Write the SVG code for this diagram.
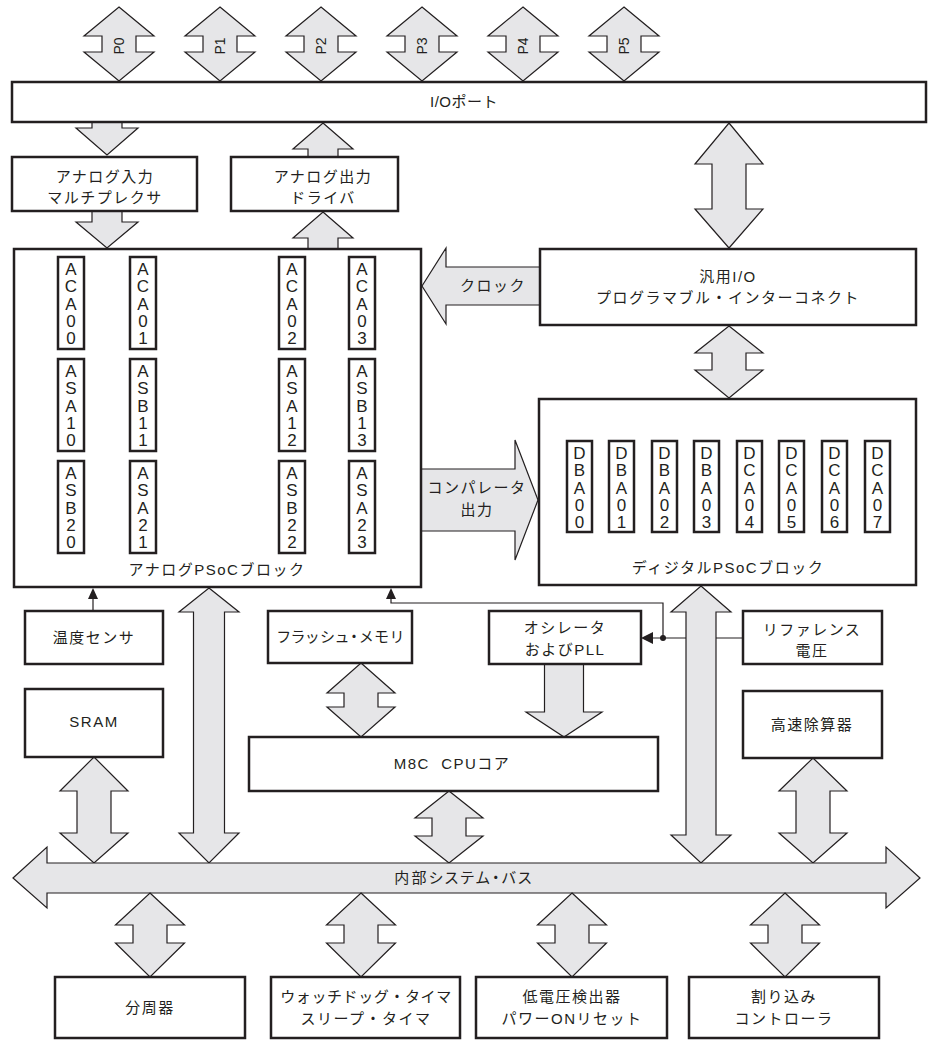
<svg xmlns="http://www.w3.org/2000/svg" width="929" height="1046" viewBox="0 0 929 1046">
<style>
.box{fill:#fff;stroke:#231f20;stroke-width:2.5}
.sub{fill:#fff;stroke:#231f20;stroke-width:2.5}
.arr{fill:#e6e6e8;stroke:#231f20;stroke-width:1.2;stroke-linejoin:miter}
.ln{fill:none;stroke:#231f20;stroke-width:1.2}
.hd{fill:#231f20;stroke:none}
.t{font-family:"Liberation Sans","Noto Sans CJK JP",sans-serif;font-size:15px;fill:#231f20;text-anchor:middle;letter-spacing:1.5px}
.pr{font-feature-settings:"palt";letter-spacing:1.8px}
.s{font-family:"Liberation Sans","Noto Sans CJK JP",sans-serif;font-size:17px;fill:#231f20;text-anchor:middle}
.p{font-family:"Liberation Sans",sans-serif;font-size:14px;fill:#231f20;text-anchor:middle}
</style>
<rect width="929" height="1046" fill="#fff"/>
<g id="connectors">
<polygon class="arr" points="119,7 154,36 136,36 136,52 154,52 119,81 84,52 102,52 102,36 84,36"/>
<polygon class="arr" points="220,7 255,36 237,36 237,52 255,52 220,81 185,52 203,52 203,36 185,36"/>
<polygon class="arr" points="321,7 356,36 338,36 338,52 356,52 321,81 286,52 304,52 304,36 286,36"/>
<polygon class="arr" points="422,7 457,36 439,36 439,52 457,52 422,81 387,52 405,52 405,36 387,36"/>
<polygon class="arr" points="523,7 558,36 540,36 540,52 558,52 523,81 488,52 506,52 506,36 488,36"/>
<polygon class="arr" points="624,7 659,36 641,36 641,52 659,52 624,81 589,52 607,52 607,36 589,36"/>
<polygon class="arr" points="92,121 122,121 122,128 138,128 107,155 76,128 92,128"/>
<polygon class="arr" points="92,211 122,211 122,222 138,222 107,248 76,222 92,222"/>
<polygon class="arr" points="323,123 353,149 338,149 338,158 308,158 308,149 293,149"/>
<polygon class="arr" points="323,212 353,238 338,238 338,250 308,250 308,238 293,238"/>
<polygon class="arr" points="729,123 763,164 746,164 746,209 763,209 729,248 695,209 712,209 712,164 695,164"/>
<polygon class="arr" points="729,326 763,353 746,353 746,370 763,370 729,398 695,370 712,370 712,353 695,353"/>
<polygon class="arr" points="422,286 446,248 446,267 541,267 541,305 446,305 446,324"/>
<polygon class="arr" points="420,469 515,469 515,440 538,500 515,560 515,531 420,531"/>
<line class="ln" x1="93" y1="611" x2="93" y2="598"/>
<polygon class="hd" points="93,588 88,599 98,599"/>
<polyline class="ln" points="391,598 391,603 663,603 663,638"/>
<polygon class="hd" points="391,588 386,599 396,599"/>
<line class="ln" x1="652" y1="638" x2="743" y2="638"/>
<polygon class="hd" points="641,638 653,632 653,644"/>
<circle class="hd" cx="663" cy="638" r="3"/>
<polygon class="arr" points="209,588 239,612 224.5,612 224.5,833 239,833 209,863 179,833 193.5,833 193.5,612 179,612"/>
<polygon class="arr" points="701,586 731,612 716,612 716,835 731,835 701,863 671,835 686,835 686,612 671,612"/>
<polygon class="arr" points="94,757 128,791 111,791 111,833 128,833 94,863 60,833 77,833 77,791 60,791"/>
<polygon class="arr" points="361,663 395,693 378,693 378,707 395,707 361,737 327,707 344,707 344,693 327,693"/>
<polygon class="arr" points="544.5,663 583.5,663 583.5,712 602,712 564,737 526,712 544.5,712"/>
<polygon class="arr" points="449,791 483,818 466,818 466,836 483,836 449,863 415,836 432,836 432,818 415,818"/>
<polygon class="arr" points="813,758 847,791 830,791 830,833 847,833 813,863 779,833 796,833 796,791 779,791"/>
<polygon class="arr" points="13,878 47,847 47,863 886,863 886,847 920,878 886,908 886,893 47,893 47,908"/>
<polygon class="arr" points="150,893 184.5,925 167,925 167,943 184.5,943 150,977 115.5,943 133,943 133,925 115.5,925"/>
<polygon class="arr" points="361,893 395.5,925 378,925 378,943 395.5,943 361,977 326.5,943 344,943 344,925 326.5,925"/>
<polygon class="arr" points="572,893 606.5,925 589,925 589,943 606.5,943 572,977 537.5,943 555,943 555,925 537.5,925"/>
<polygon class="arr" points="785,893 819.5,925 802,925 802,943 819.5,943 785,977 750.5,943 768,943 768,925 750.5,925"/>
</g>
<g id="port-labels">
<text class="p" transform="translate(124,46) rotate(-90)">P0</text>
<text class="p" transform="translate(225,46) rotate(-90)">P1</text>
<text class="p" transform="translate(326,46) rotate(-90)">P2</text>
<text class="p" transform="translate(427,46) rotate(-90)">P3</text>
<text class="p" transform="translate(528,46) rotate(-90)">P4</text>
<text class="p" transform="translate(629,46) rotate(-90)">P5</text>
</g>
<g id="io-port"><rect class="box" x="12" y="82" width="914" height="40"/><text class="t" x="464" y="107" style="letter-spacing:0.5px">I/Oポート</text></g>
<g id="analog-in-mux"><rect class="box" x="12" y="157" width="185" height="54"/><text class="t" x="105" y="182">アナログ入力</text><text class="t" x="105" y="203">マルチプレクサ</text></g>
<g id="analog-out-driver"><rect class="box" x="231" y="157" width="167" height="54"/><text class="t" x="323" y="182">アナログ出力</text><text class="t" x="323" y="203">ドライバ</text></g>
<g id="gpio-interconnect"><rect class="box" x="540" y="249" width="376" height="76"/><text class="t" x="728" y="282">汎用I/O</text><text class="t" x="728" y="303">プログラマブル・インターコネクト</text></g>
<g id="comparator-label"><text class="t" x="477" y="493">コンパレータ</text><text class="t" x="477" y="515">出力</text></g>
<g id="clock-label"><text class="t" x="493" y="291">クロック</text></g>
<g id="analog-psoc">
<rect class="box" x="14" y="249" width="407" height="338"/>
<g id="analog-blocks">
<rect class="sub" x="58" y="257" width="26" height="92"/><rect class="sub" x="130" y="257" width="26" height="92"/><rect class="sub" x="279" y="257" width="26" height="92"/><rect class="sub" x="349" y="257" width="26" height="92"/>
<rect class="sub" x="58" y="359" width="26" height="92"/><rect class="sub" x="130" y="359" width="26" height="92"/><rect class="sub" x="279" y="359" width="26" height="92"/><rect class="sub" x="349" y="359" width="26" height="92"/>
<rect class="sub" x="58" y="461" width="26" height="92"/><rect class="sub" x="130" y="461" width="26" height="92"/><rect class="sub" x="279" y="461" width="26" height="92"/><rect class="sub" x="349" y="461" width="26" height="92"/>
<text class="s"><tspan x="71" y="275">A</tspan><tspan x="71" y="292">C</tspan><tspan x="71" y="309.5">A</tspan><tspan x="71" y="326.5">0</tspan><tspan x="71" y="344">0</tspan></text>
<text class="s"><tspan x="143" y="275">A</tspan><tspan x="143" y="292">C</tspan><tspan x="143" y="309.5">A</tspan><tspan x="143" y="326.5">0</tspan><tspan x="143" y="344">1</tspan></text>
<text class="s"><tspan x="292" y="275">A</tspan><tspan x="292" y="292">C</tspan><tspan x="292" y="309.5">A</tspan><tspan x="292" y="326.5">0</tspan><tspan x="292" y="344">2</tspan></text>
<text class="s"><tspan x="362" y="275">A</tspan><tspan x="362" y="292">C</tspan><tspan x="362" y="309.5">A</tspan><tspan x="362" y="326.5">0</tspan><tspan x="362" y="344">3</tspan></text>
<text class="s"><tspan x="71" y="377">A</tspan><tspan x="71" y="394">S</tspan><tspan x="71" y="411.5">A</tspan><tspan x="71" y="428.5">1</tspan><tspan x="71" y="446">0</tspan></text>
<text class="s"><tspan x="143" y="377">A</tspan><tspan x="143" y="394">S</tspan><tspan x="143" y="411.5">B</tspan><tspan x="143" y="428.5">1</tspan><tspan x="143" y="446">1</tspan></text>
<text class="s"><tspan x="292" y="377">A</tspan><tspan x="292" y="394">S</tspan><tspan x="292" y="411.5">A</tspan><tspan x="292" y="428.5">1</tspan><tspan x="292" y="446">2</tspan></text>
<text class="s"><tspan x="362" y="377">A</tspan><tspan x="362" y="394">S</tspan><tspan x="362" y="411.5">B</tspan><tspan x="362" y="428.5">1</tspan><tspan x="362" y="446">3</tspan></text>
<text class="s"><tspan x="71" y="479">A</tspan><tspan x="71" y="496">S</tspan><tspan x="71" y="513.5">B</tspan><tspan x="71" y="530.5">2</tspan><tspan x="71" y="548">0</tspan></text>
<text class="s"><tspan x="143" y="479">A</tspan><tspan x="143" y="496">S</tspan><tspan x="143" y="513.5">A</tspan><tspan x="143" y="530.5">2</tspan><tspan x="143" y="548">1</tspan></text>
<text class="s"><tspan x="292" y="479">A</tspan><tspan x="292" y="496">S</tspan><tspan x="292" y="513.5">B</tspan><tspan x="292" y="530.5">2</tspan><tspan x="292" y="548">2</tspan></text>
<text class="s"><tspan x="362" y="479">A</tspan><tspan x="362" y="496">S</tspan><tspan x="362" y="513.5">A</tspan><tspan x="362" y="530.5">2</tspan><tspan x="362" y="548">3</tspan></text>
</g>
<text class="t" x="217" y="575">アナログPSoCブロック</text>
</g>
<g id="digital-psoc">
<rect class="box" x="539" y="399" width="377" height="186"/>
<g id="digital-blocks">
<rect class="sub" x="567" y="441" width="25" height="91"/><rect class="sub" x="609" y="441" width="25" height="91"/><rect class="sub" x="652" y="441" width="25" height="91"/><rect class="sub" x="694" y="441" width="25" height="91"/>
<rect class="sub" x="737" y="441" width="25" height="91"/><rect class="sub" x="779" y="441" width="25" height="91"/><rect class="sub" x="822" y="441" width="25" height="91"/><rect class="sub" x="865" y="441" width="25" height="91"/>
<text class="s"><tspan x="579.5" y="459">D</tspan><tspan x="579.5" y="476">B</tspan><tspan x="579.5" y="493.5">A</tspan><tspan x="579.5" y="510.5">0</tspan><tspan x="579.5" y="528">0</tspan></text>
<text class="s"><tspan x="621.5" y="459">D</tspan><tspan x="621.5" y="476">B</tspan><tspan x="621.5" y="493.5">A</tspan><tspan x="621.5" y="510.5">0</tspan><tspan x="621.5" y="528">1</tspan></text>
<text class="s"><tspan x="664.5" y="459">D</tspan><tspan x="664.5" y="476">B</tspan><tspan x="664.5" y="493.5">A</tspan><tspan x="664.5" y="510.5">0</tspan><tspan x="664.5" y="528">2</tspan></text>
<text class="s"><tspan x="706.5" y="459">D</tspan><tspan x="706.5" y="476">B</tspan><tspan x="706.5" y="493.5">A</tspan><tspan x="706.5" y="510.5">0</tspan><tspan x="706.5" y="528">3</tspan></text>
<text class="s"><tspan x="749.5" y="459">D</tspan><tspan x="749.5" y="476">C</tspan><tspan x="749.5" y="493.5">A</tspan><tspan x="749.5" y="510.5">0</tspan><tspan x="749.5" y="528">4</tspan></text>
<text class="s"><tspan x="791.5" y="459">D</tspan><tspan x="791.5" y="476">C</tspan><tspan x="791.5" y="493.5">A</tspan><tspan x="791.5" y="510.5">0</tspan><tspan x="791.5" y="528">5</tspan></text>
<text class="s"><tspan x="834.5" y="459">D</tspan><tspan x="834.5" y="476">C</tspan><tspan x="834.5" y="493.5">A</tspan><tspan x="834.5" y="510.5">0</tspan><tspan x="834.5" y="528">6</tspan></text>
<text class="s"><tspan x="877.5" y="459">D</tspan><tspan x="877.5" y="476">C</tspan><tspan x="877.5" y="493.5">A</tspan><tspan x="877.5" y="510.5">0</tspan><tspan x="877.5" y="528">7</tspan></text>
</g>
<text class="t" x="728" y="573">ディジタルPSoCブロック</text>
</g>
<g id="temp-sensor"><rect class="box" x="25" y="611" width="138" height="53"/><text class="t" x="94" y="643">温度センサ</text></g>
<g id="sram"><rect class="box" x="25" y="689" width="138" height="68"/><text class="t" x="94" y="727">SRAM</text></g>
<g id="flash"><rect class="box" x="268" y="611" width="144" height="52"/><text class="t pr" x="341" y="642">フラッシュ・メモリ</text></g>
<g id="oscillator"><rect class="box" x="489" y="611" width="152" height="53"/><text class="t" x="565" y="633">オシレータ</text><text class="t" x="565" y="655">およびPLL</text></g>
<g id="reference"><rect class="box" x="743" y="611" width="139" height="53"/><text class="t" x="812" y="635">リファレンス</text><text class="t" x="812" y="656">電圧</text></g>
<g id="divider-fast"><rect class="box" x="743" y="691" width="139" height="67"/><text class="t" x="812" y="730">高速除算器</text></g>
<g id="m8c"><rect class="box" x="249" y="737" width="409" height="54"/><text class="t" x="452" y="769" xml:space="preserve">M8C  CPUコア</text></g>
<g id="bus-label"><text class="t pr" x="464" y="883" style="letter-spacing:2.2px">内部システム・バス</text></g>
<g id="clock-divider"><rect class="box" x="55" y="977" width="190" height="61"/><text class="t" x="150" y="1013">分周器</text></g>
<g id="watchdog"><rect class="box" x="271" y="977" width="189" height="61"/><text class="t" x="366" y="1002" style="letter-spacing:0.6px">ウォッチドッグ・タイマ</text><text class="t" x="366" y="1024">スリープ・タイマ</text></g>
<g id="lvd"><rect class="box" x="476" y="977" width="191" height="61"/><text class="t" x="572" y="1002">低電圧検出器</text><text class="t" x="572" y="1024">パワーONリセット</text></g>
<g id="interrupt"><rect class="box" x="689" y="977" width="190" height="61"/><text class="t" x="784" y="1002">割り込み</text><text class="t" x="784" y="1024">コントローラ</text></g>
</svg>
